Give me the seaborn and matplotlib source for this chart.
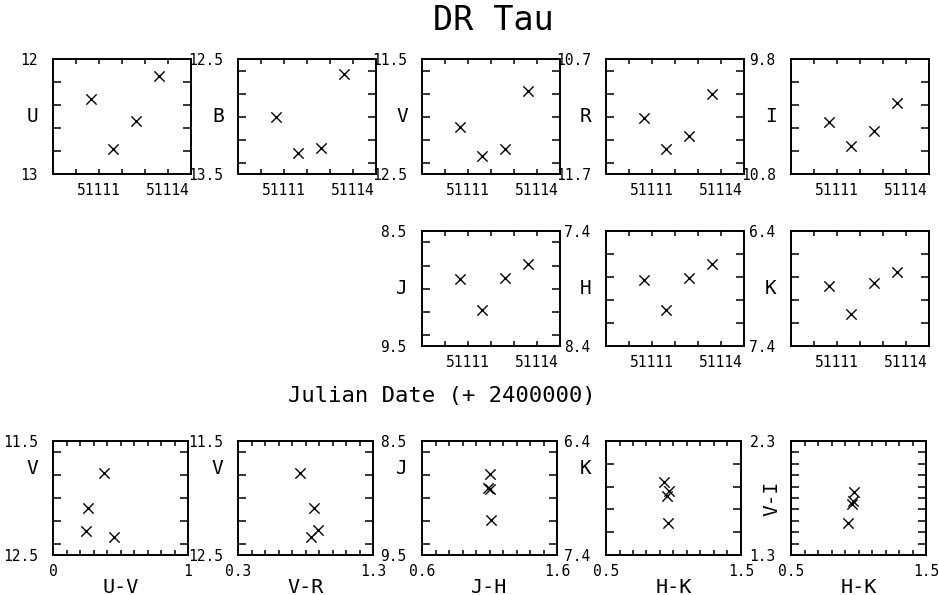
import matplotlib
matplotlib.use("Agg")
import matplotlib.pyplot as plt
import seaborn as sns
from matplotlib.ticker import MultipleLocator

# Photometry of DR Tau
jd = [51110.65, 51111.62, 51112.60, 51113.63]
mag_U = [12.35, 12.78, 12.54, 12.15]
mag_B = [13.00, 13.32, 13.27, 12.63]
mag_V = [12.09, 12.34, 12.285, 11.78]
mag_R = [11.21, 11.48, 11.37, 11.00]
mag_I = [10.35, 10.56, 10.43, 10.18]
mag_J = [8.92, 9.19, 8.91, 8.79]
mag_H = [7.83, 8.09, 7.81, 7.69]
mag_K = [6.88, 7.12, 6.85, 6.76]

# colour-magnitude panels
uv_col = [0.26, 0.45, 0.247, 0.375]
uv_V = [12.09, 12.345, 12.29, 11.78]
vr_col = [0.86, 0.84, 0.89, 0.76]
vr_V = [12.09, 12.34, 12.285, 11.78]
jh_col = [1.09, 1.11, 1.10, 1.10]
jh_J = [8.915, 9.19, 8.92, 8.79]
hk_col = [0.95, 0.96, 0.97, 0.93]
hk_K = [6.88, 7.12, 6.84, 6.76]
hk2_col = [0.95, 0.96, 0.97, 0.92]
vi_col = [1.75, 1.77, 1.85, 1.58]

# (label, values, (top value, bottom value), tick labels top/bottom)
time_panels = [
    ("U", mag_U, (12, 13), ["12", "13"]),
    ("B", mag_B, (12.5, 13.5), ["12.5", "13.5"]),
    ("V", mag_V, (11.5, 12.5), ["11.5", "12.5"]),
    ("R", mag_R, (10.7, 11.7), ["10.7", "11.7"]),
    ("I", mag_I, (9.8, 10.8), ["9.8", "10.8"]),
    ("J", mag_J, (8.5, 9.5), ["8.5", "9.5"]),
    ("H", mag_H, (7.4, 8.4), ["7.4", "8.4"]),
    ("K", mag_K, (6.4, 7.4), ["6.4", "7.4"]),
]
cmd_panels = [
    ("U-V", "V", uv_col, uv_V, (0, 1), ["0", "1"], (11.5, 12.5), ["11.5", "12.5"]),
    ("V-R", "V", vr_col, vr_V, (0.3, 1.3), ["0.3", "1.3"], (11.5, 12.5), ["11.5", "12.5"]),
    ("J-H", "J", jh_col, jh_J, (0.6, 1.6), ["0.6", "1.6"], (8.5, 9.5), ["8.5", "9.5"]),
    ("H-K", "K", hk_col, hk_K, (0.5, 1.5), ["0.5", "1.5"], (6.4, 7.4), ["6.4", "7.4"]),
    ("H-K", "V-I", hk2_col, vi_col, (0.5, 1.5), ["0.5", "1.5"], (2.3, 1.3), ["2.3", "1.3"]),
]

sns.set_theme(style="white")
plt.rcParams["font.family"] = ["DejaVu Sans Mono", "DejaVu Sans"]
plt.rcParams["axes.edgecolor"] = "black"
plt.rcParams["axes.linewidth"] = 1.4
plt.rcParams["text.color"] = "black"

W, H = 939, 595
fig = plt.figure(figsize=(W / 100, H / 100), dpi=100)

col_x = [53, 238, 422, 606, 791]


def px_axes(x, top, w, h):
    return fig.add_axes([x / W, 1 - (top + h) / H, w / W, h / H])


def style_axes(ax, xticks, xlabels, ylim, ylabels, xminor, yminor):
    # ylim holds (top value, bottom value)
    ax.set_ylim(ylim[1], ylim[0])
    ax.set_yticks(list(ylim))
    ax.set_yticklabels(ylabels)
    ax.yaxis.set_minor_locator(MultipleLocator(yminor))
    ax.set_xticks(xticks)
    ax.set_xticklabels(xlabels)
    ax.xaxis.set_minor_locator(MultipleLocator(xminor))
    ax.tick_params(axis="y", which="major", left=False, right=False, labelleft=True, pad=5,
                   labelsize=10.5, colors="black")
    ax.tick_params(axis="y", which="minor", left=True, right=True, direction="in", length=5.5,
                   width=1.1, color="black")
    ax.tick_params(axis="x", which="both", top=True, bottom=True, direction="in", width=1.1,
                   color="black", labelsize=10.5, pad=6.5, labelcolor="black")
    ax.set_xlabel("")
    ax.set_ylabel("")
    for s in ax.spines.values():
        s.set_color("black")
        s.set_linewidth(1.4)


# light curves
positions = [(col_x[i], 59) for i in range(5)] + [(col_x[i], 231) for i in (2, 3, 4)]
for (band, mags, ylim, ylabels), (x0, top) in zip(time_panels, positions):
    ax = px_axes(x0, top, 138, 115)
    sns.scatterplot(x=jd, y=mags, ax=ax, marker="x", color="black", s=55, linewidth=1.0, legend=False)
    ax.set_xlim(51109, 51115)
    style_axes(ax, [51111, 51114], ["51111", "51114"], ylim, ylabels, 1, 0.2)
    ax.tick_params(axis="x", which="both", length=3.8)
    ax.text(-0.145, 0.5, band, transform=ax.transAxes, fontsize=14, ha="center", va="center")

# colour-magnitude diagrams
for i, (xl, yl, xs, ys, xlim, xlabs, ylim, ylabs) in enumerate(cmd_panels):
    ax = px_axes(col_x[i], 441, 135, 114)
    sns.scatterplot(x=xs, y=ys, ax=ax, marker="x", color="black", s=55, linewidth=1.0, legend=False)
    ax.set_xlim(xlim)
    is_vi = yl == "V-I"
    style_axes(ax, list(xlim), xlabs, ylim, ylabs, (xlim[1] - xlim[0]) / 10,
               0.1 if is_vi else 0.2)
    ax.tick_params(axis="x", which="major", length=0)
    ax.tick_params(axis="x", which="minor", length=3.5)
    ax.text(0.5, -0.2, xl, transform=ax.transAxes, fontsize=14.5, ha="center", va="top")
    if is_vi:
        ax.text(-0.14, 0.5, yl, transform=ax.transAxes, fontsize=14, ha="center", va="center", rotation=90)
    else:
        ax.text(-0.15, 0.76, yl, transform=ax.transAxes, fontsize=14, ha="center", va="center")

fig.text(493 / W, 1 - 21 / H, "DR Tau", fontsize=24, ha="center", va="center")
fig.text(442 / W, 1 - 396 / H, "Julian Date (+ 2400000)", fontsize=16, ha="center", va="center")

fig.savefig("out.png", dpi=100, facecolor="white")
